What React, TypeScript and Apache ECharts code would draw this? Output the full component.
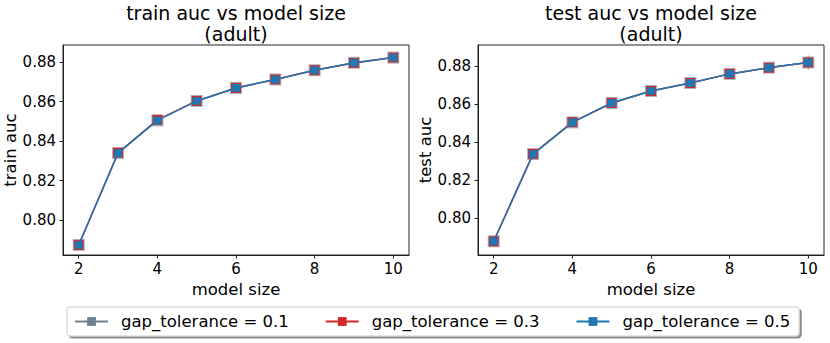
import React, { useEffect, useRef } from "react";
import * as echarts from "echarts";

const modelSizes = [2, 3, 4, 5, 6, 7, 8, 9, 10];
const seriesNames = ["gap_tolerance = 0.1", "gap_tolerance = 0.3", "gap_tolerance = 0.5"];

const trainGap01 = [0.7873, 0.8339, 0.8505, 0.8604, 0.867, 0.8713, 0.876, 0.8798, 0.8824];
const trainGap03 = [0.7873, 0.8341, 0.8508, 0.8604, 0.867, 0.8713, 0.876, 0.8797, 0.8824];
const trainGap05 = [0.7873, 0.8339, 0.8505, 0.8604, 0.867, 0.8713, 0.876, 0.8798, 0.8824];

const testGap01 = [0.7879, 0.8338, 0.8505, 0.8607, 0.867, 0.8712, 0.876, 0.8793, 0.882];
const testGap03 = [0.7879, 0.8339, 0.8506, 0.8607, 0.867, 0.8712, 0.876, 0.8792, 0.882];
const testGap05 = [0.7879, 0.8338, 0.8505, 0.8607, 0.867, 0.8712, 0.876, 0.8793, 0.882];
const testErr = [0.0008, 0.0008, 0.001, 0.001, 0.0012, 0.0015, 0.002, 0.0028, 0.0037];

const yTicks = [0.8, 0.82, 0.84, 0.86, 0.88];
const xTicks = [2, 4, 6, 8, 10];

const FONT = "DejaVu Sans";
const colors = ["#708090", "#d62728", "#1f77b4"];
const symbolSizes = [12, 10, 8];

export default function App() {
  const ref = useRef<HTMLDivElement>(null);
  useEffect(() => {
    if (!ref.current) return;
    const chart = echarts.init(ref.current, null, { renderer: "svg" });

    const grids = [
      { left: 63, top: 45, width: 346, height: 210 },
      { left: 478, top: 45, width: 346, height: 210 },
    ];
    const yRanges = [
      [0.7822, 0.8888],
      [0.7807, 0.8912],
    ];
    const yNames = ["train auc", "test auc"];
    const titles = ["train auc vs model size\n(adult)", "test auc vs model size\n(adult)"];
    const data = [
      [trainGap01, trainGap03, trainGap05],
      [testGap01, testGap03, testGap05],
    ];

    const axisLineStyle = { color: "#222", width: 1 };

    const series: any[] = [];
    data.forEach((group, gi) => {
      if (gi === 1) {
        series.push({
          type: "custom",
          xAxisIndex: 1,
          yAxisIndex: 1,
          z: 1,
          silent: true,
          data: modelSizes.map((x, i) => [x, testGap01[i] - testErr[i], testGap01[i] + testErr[i]]),
          renderItem: (params: any, api: any) => {
            const p1 = api.coord([api.value(0), api.value(1)]);
            const p2 = api.coord([api.value(0), api.value(2)]);
            return {
              type: "line",
              shape: { x1: p1[0], y1: p1[1], x2: p2[0], y2: p2[1] },
              style: { stroke: "#708090", lineWidth: 1.2, opacity: 0.8 },
            };
          },
        });
      }
      group.forEach((vals, si) => {
        series.push({
          type: "line",
          name: seriesNames[si],
          xAxisIndex: gi,
          yAxisIndex: gi,
          z: 2 + si,
          data: modelSizes.map((x, i) => [x, vals[i]]),
          symbol: "rect",
          symbolSize: symbolSizes[si],
          showAllSymbol: true,
          lineStyle: { color: colors[si], width: 1.5, opacity: si === 0 ? 0.6 : 1 },
          itemStyle: { color: colors[si], opacity: si === 0 ? 0.6 : 1 },
          emphasis: { disabled: true },
        });
      });
    });

    chart.setOption({
      animation: false,
      textStyle: { fontFamily: FONT },
      title: titles.map((t, i) => ({
        text: t,
        left: grids[i].left + grids[i].width / 2,
        textAlign: "center",
        top: 2,
        padding: 0,
        textStyle: {
          fontFamily: FONT,
          fontSize: 19,
          fontWeight: "normal",
          color: "#000",
          lineHeight: 21,
        },
      })),
      grid: grids.map((g) => ({
        ...g,
        show: true,
        borderColor: "#222",
        borderWidth: 1,
        backgroundColor: "transparent",
      })),
      xAxis: grids.map((_, i) => ({
        type: "value",
        gridIndex: i,
        min: 1.6,
        max: 10.4,
        name: "model size",
        nameLocation: "middle",
        nameGap: 22,
        nameTextStyle: { fontFamily: FONT, fontSize: 16.5, color: "#000" },
        axisLine: { show: true, lineStyle: axisLineStyle },
        axisTick: { show: true, length: 3.5, lineStyle: axisLineStyle, customValues: xTicks },
        axisLabel: {
          margin: 6,
          fontFamily: FONT,
          fontSize: 15,
          color: "#000",
          customValues: xTicks,
          formatter: (v: number) => String(v),
        },
        splitLine: { show: false },
      })),
      yAxis: grids.map((_, i) => ({
        type: "value",
        gridIndex: i,
        min: yRanges[i][0],
        max: yRanges[i][1],
        name: yNames[i],
        nameLocation: "middle",
        nameGap: 42,
        nameTextStyle: { fontFamily: FONT, fontSize: 16.5, color: "#000" },
        axisLine: { show: true, lineStyle: axisLineStyle },
        axisTick: { show: true, length: 3.5, lineStyle: axisLineStyle, customValues: yTicks },
        axisLabel: {
          margin: 7,
          fontFamily: FONT,
          fontSize: 15,
          color: "#000",
          customValues: yTicks,
          formatter: (v: number) => v.toFixed(2),
        },
        splitLine: { show: false },
      })),
      legend: {
        data: seriesNames.map((n, i) => ({
          name: n,
          itemStyle: { color: colors[i], opacity: 1 },
          lineStyle: { color: colors[i], opacity: 1 },
        })),
        left: 67,
        top: 307,
        orient: "horizontal",
        padding: [6, 9, 6, 7],
        itemGap: 36,
        itemWidth: 33,
        itemHeight: 11,
        borderColor: "#cccccc",
        borderWidth: 1,
        borderRadius: 3,
        backgroundColor: "#fff",
        shadowColor: "rgba(0,0,0,0.45)",
        shadowOffsetX: 2,
        shadowOffsetY: 2,
        shadowBlur: 0,
        selectedMode: false,
        textStyle: { fontFamily: FONT, fontSize: 16.5, color: "#000", padding: [0, 0, 0, 8] },
      },
      series,
    });
    return () => chart.dispose();
  }, []);
  return (
    <div
      ref={ref}
      style={{ position: "fixed", left: 0, top: 0, width: 830, height: 343, background: "#fff" }}
    />
  );
}
